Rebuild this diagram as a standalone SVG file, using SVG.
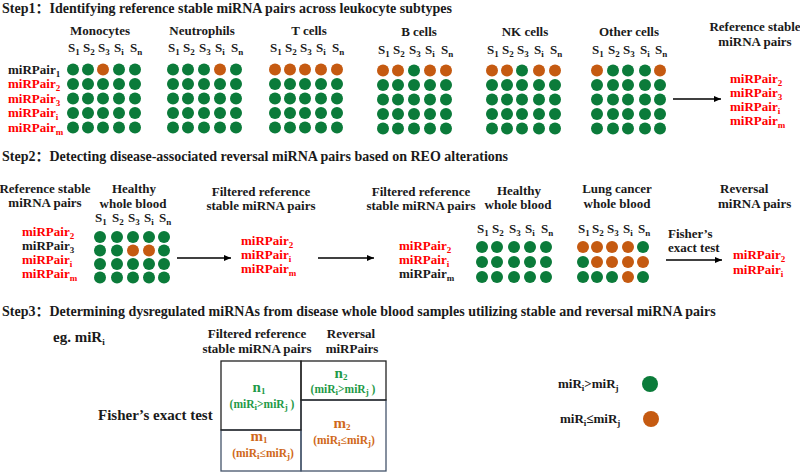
<svg xmlns="http://www.w3.org/2000/svg" width="800" height="473" viewBox="0 0 800 473">
<defs>
<style>
text{font-family:"Liberation Serif","Times New Roman","Noto Sans CJK SC",serif;font-weight:bold;font-size:13px;fill:#1a1a1a}
.ttl{font-size:14px}
.r{fill:#ff0000}
.c{text-anchor:middle}
.s{font-size:9px}
.g{fill:#0b7b3a}
.o{fill:#c55a11}
.gt{fill:#1f9a48}
.ot{fill:#d0691a}
.big{font-size:15px}
.sm{font-size:11.5px}
.ln{stroke:#000;stroke-width:1.3;fill:none}
</style>
<marker id="ah" markerWidth="8" markerHeight="8" refX="7" refY="4" orient="auto" markerUnits="userSpaceOnUse">
<path d="M0,1 L7,4 L0,7 Z" fill="#000"/>
</marker>
</defs>
<rect width="800" height="473" fill="#fff"/>

<g id="titles">
<text class="ttl" x="2" y="13">Step1：Identifying reference stable miRNA pairs across leukocyte subtypes</text>
<text class="ttl" x="2" y="161">Step2：Detecting disease-associated reversal miRNA pairs based on REO alterations</text>
<text class="ttl" x="2" y="316">Step3：Determining dysregulated miRNAs from disease whole blood samples utilizing stable and reversal miRNA pairs</text>
</g>

<g id="connectors">
<line class="ln" x1="673" y1="99" x2="721" y2="99" marker-end="url(#ah)"/>
<line class="ln" x1="177" y1="258" x2="231" y2="258" marker-end="url(#ah)"/>
<line class="ln" x1="318" y1="258" x2="374" y2="258" marker-end="url(#ah)"/>
<line class="ln" x1="666" y1="260" x2="722" y2="260" marker-end="url(#ah)"/>
</g>

<g id="step1-labels">
<text x="8" y="73.5">miRPair<tspan class="s" dy="3">1</tspan></text>
<text class="r" x="8" y="88">miRPair<tspan class="s" dy="3">2</tspan></text>
<text class="r" x="8" y="102.5">miRPair<tspan class="s" dy="3">3</tspan></text>
<text class="r" x="8" y="117">miRPair<tspan class="s" dy="3">i</tspan></text>
<text class="r" x="8" y="131.5">miRPair<tspan class="s" dy="3">m</tspan></text>
</g>

<g id="monocytes">
<text class="c" x="100" y="35">Monocytes</text>
<text x="68" y="52">S<tspan class="s" dy="3">1</tspan></text>
<text x="83" y="52">S<tspan class="s" dy="3">2</tspan></text>
<text x="98" y="52">S<tspan class="s" dy="3">3</tspan></text>
<text x="114" y="52">S<tspan class="s" dy="3">i</tspan></text>
<text x="130" y="52">S<tspan class="s" dy="3">n</tspan></text>
<circle class="g" cx="73" cy="69.5" r="6"/><circle class="g" cx="88" cy="69.5" r="6"/><circle class="o" cx="103" cy="69.5" r="6"/><circle class="g" cx="119" cy="69.5" r="6"/><circle class="g" cx="135" cy="69.5" r="6"/>
<circle class="g" cx="73" cy="84" r="6"/><circle class="g" cx="88" cy="84" r="6"/><circle class="g" cx="103" cy="84" r="6"/><circle class="g" cx="119" cy="84" r="6"/><circle class="g" cx="135" cy="84" r="6"/>
<circle class="g" cx="73" cy="98.5" r="6"/><circle class="g" cx="88" cy="98.5" r="6"/><circle class="g" cx="103" cy="98.5" r="6"/><circle class="g" cx="119" cy="98.5" r="6"/><circle class="g" cx="135" cy="98.5" r="6"/>
<circle class="g" cx="73" cy="113" r="6"/><circle class="g" cx="88" cy="113" r="6"/><circle class="g" cx="103" cy="113" r="6"/><circle class="g" cx="119" cy="113" r="6"/><circle class="g" cx="135" cy="113" r="6"/>
<circle class="g" cx="73" cy="127.5" r="6"/><circle class="g" cx="88" cy="127.5" r="6"/><circle class="g" cx="103" cy="127.5" r="6"/><circle class="g" cx="119" cy="127.5" r="6"/><circle class="g" cx="135" cy="127.5" r="6"/>
</g>

<g id="neutrophils">
<text class="c" x="202" y="35">Neutrophils</text>
<text x="168" y="52">S<tspan class="s" dy="3">1</tspan></text>
<text x="183" y="52">S<tspan class="s" dy="3">2</tspan></text>
<text x="199" y="52">S<tspan class="s" dy="3">3</tspan></text>
<text x="215" y="52">S<tspan class="s" dy="3">i</tspan></text>
<text x="231" y="52">S<tspan class="s" dy="3">n</tspan></text>
<circle class="g" cx="173" cy="69.5" r="6"/><circle class="g" cx="188" cy="69.5" r="6"/><circle class="g" cx="204" cy="69.5" r="6"/><circle class="o" cx="220" cy="69.5" r="6"/><circle class="g" cx="236" cy="69.5" r="6"/>
<circle class="g" cx="173" cy="84" r="6"/><circle class="g" cx="188" cy="84" r="6"/><circle class="g" cx="204" cy="84" r="6"/><circle class="g" cx="220" cy="84" r="6"/><circle class="g" cx="236" cy="84" r="6"/>
<circle class="g" cx="173" cy="98.5" r="6"/><circle class="g" cx="188" cy="98.5" r="6"/><circle class="g" cx="204" cy="98.5" r="6"/><circle class="g" cx="220" cy="98.5" r="6"/><circle class="g" cx="236" cy="98.5" r="6"/>
<circle class="g" cx="173" cy="113" r="6"/><circle class="g" cx="188" cy="113" r="6"/><circle class="g" cx="204" cy="113" r="6"/><circle class="g" cx="220" cy="113" r="6"/><circle class="g" cx="236" cy="113" r="6"/>
<circle class="g" cx="173" cy="127.5" r="6"/><circle class="g" cx="188" cy="127.5" r="6"/><circle class="g" cx="204" cy="127.5" r="6"/><circle class="g" cx="220" cy="127.5" r="6"/><circle class="g" cx="236" cy="127.5" r="6"/>
</g>

<g id="tcells">
<text class="c" x="309" y="35">T cells</text>
<text x="270" y="52">S<tspan class="s" dy="3">1</tspan></text>
<text x="285" y="52">S<tspan class="s" dy="3">2</tspan></text>
<text x="300" y="52">S<tspan class="s" dy="3">3</tspan></text>
<text x="316" y="52">S<tspan class="s" dy="3">i</tspan></text>
<text x="332" y="52">S<tspan class="s" dy="3">n</tspan></text>
<circle class="o" cx="275" cy="69.5" r="6"/><circle class="o" cx="290" cy="69.5" r="6"/><circle class="o" cx="305" cy="69.5" r="6"/><circle class="o" cx="321" cy="69.5" r="6"/><circle class="o" cx="337" cy="69.5" r="6"/>
<circle class="g" cx="275" cy="84" r="6"/><circle class="g" cx="290" cy="84" r="6"/><circle class="g" cx="305" cy="84" r="6"/><circle class="g" cx="321" cy="84" r="6"/><circle class="g" cx="337" cy="84" r="6"/>
<circle class="g" cx="275" cy="98.5" r="6"/><circle class="g" cx="290" cy="98.5" r="6"/><circle class="g" cx="305" cy="98.5" r="6"/><circle class="g" cx="321" cy="98.5" r="6"/><circle class="g" cx="337" cy="98.5" r="6"/>
<circle class="g" cx="275" cy="113" r="6"/><circle class="g" cx="290" cy="113" r="6"/><circle class="g" cx="305" cy="113" r="6"/><circle class="g" cx="321" cy="113" r="6"/><circle class="g" cx="337" cy="113" r="6"/>
<circle class="g" cx="275" cy="127.5" r="6"/><circle class="g" cx="290" cy="127.5" r="6"/><circle class="g" cx="305" cy="127.5" r="6"/><circle class="g" cx="321" cy="127.5" r="6"/><circle class="g" cx="337" cy="127.5" r="6"/>
</g>

<g id="bcells">
<text class="c" x="419" y="36">B cells</text>
<text x="378" y="54">S<tspan class="s" dy="3">1</tspan></text>
<text x="393" y="54">S<tspan class="s" dy="3">2</tspan></text>
<text x="409" y="54">S<tspan class="s" dy="3">3</tspan></text>
<text x="425" y="54">S<tspan class="s" dy="3">i</tspan></text>
<text x="441" y="54">S<tspan class="s" dy="3">n</tspan></text>
<circle class="o" cx="383" cy="70.5" r="6"/><circle class="o" cx="398" cy="70.5" r="6"/><circle class="g" cx="414" cy="70.5" r="6"/><circle class="o" cx="430" cy="70.5" r="6"/><circle class="o" cx="446" cy="70.5" r="6"/>
<circle class="g" cx="383" cy="85" r="6"/><circle class="g" cx="398" cy="85" r="6"/><circle class="g" cx="414" cy="85" r="6"/><circle class="g" cx="430" cy="85" r="6"/><circle class="g" cx="446" cy="85" r="6"/>
<circle class="g" cx="383" cy="99.5" r="6"/><circle class="g" cx="398" cy="99.5" r="6"/><circle class="g" cx="414" cy="99.5" r="6"/><circle class="g" cx="430" cy="99.5" r="6"/><circle class="g" cx="446" cy="99.5" r="6"/>
<circle class="g" cx="383" cy="114" r="6"/><circle class="g" cx="398" cy="114" r="6"/><circle class="g" cx="414" cy="114" r="6"/><circle class="g" cx="430" cy="114" r="6"/><circle class="g" cx="446" cy="114" r="6"/>
<circle class="g" cx="383" cy="128.5" r="6"/><circle class="g" cx="398" cy="128.5" r="6"/><circle class="g" cx="414" cy="128.5" r="6"/><circle class="g" cx="430" cy="128.5" r="6"/><circle class="g" cx="446" cy="128.5" r="6"/>
</g>

<g id="nkcells">
<text class="c" x="525" y="36">NK cells</text>
<text x="487" y="54">S<tspan class="s" dy="3">1</tspan></text>
<text x="502" y="54">S<tspan class="s" dy="3">2</tspan></text>
<text x="517" y="54">S<tspan class="s" dy="3">3</tspan></text>
<text x="534" y="54">S<tspan class="s" dy="3">i</tspan></text>
<text x="550" y="54">S<tspan class="s" dy="3">n</tspan></text>
<circle class="o" cx="492" cy="70.5" r="6"/><circle class="o" cx="507" cy="70.5" r="6"/><circle class="g" cx="522" cy="70.5" r="6"/><circle class="o" cx="539" cy="70.5" r="6"/><circle class="o" cx="555" cy="70.5" r="6"/>
<circle class="g" cx="492" cy="85" r="6"/><circle class="g" cx="507" cy="85" r="6"/><circle class="g" cx="522" cy="85" r="6"/><circle class="g" cx="539" cy="85" r="6"/><circle class="g" cx="555" cy="85" r="6"/>
<circle class="g" cx="492" cy="99.5" r="6"/><circle class="g" cx="507" cy="99.5" r="6"/><circle class="g" cx="522" cy="99.5" r="6"/><circle class="g" cx="539" cy="99.5" r="6"/><circle class="g" cx="555" cy="99.5" r="6"/>
<circle class="g" cx="492" cy="114" r="6"/><circle class="g" cx="507" cy="114" r="6"/><circle class="g" cx="522" cy="114" r="6"/><circle class="g" cx="539" cy="114" r="6"/><circle class="g" cx="555" cy="114" r="6"/>
<circle class="g" cx="492" cy="128.5" r="6"/><circle class="g" cx="507" cy="128.5" r="6"/><circle class="g" cx="522" cy="128.5" r="6"/><circle class="g" cx="539" cy="128.5" r="6"/><circle class="g" cx="555" cy="128.5" r="6"/>
</g>

<g id="othercells">
<text class="c" x="629" y="36">Other cells</text>
<text x="592" y="54">S<tspan class="s" dy="3">1</tspan></text>
<text x="608" y="54">S<tspan class="s" dy="3">2</tspan></text>
<text x="623" y="54">S<tspan class="s" dy="3">3</tspan></text>
<text x="640" y="54">S<tspan class="s" dy="3">i</tspan></text>
<text x="655" y="54">S<tspan class="s" dy="3">n</tspan></text>
<circle class="o" cx="597" cy="70.5" r="6"/><circle class="g" cx="613" cy="70.5" r="6"/><circle class="g" cx="628" cy="70.5" r="6"/><circle class="g" cx="645" cy="70.5" r="6"/><circle class="o" cx="660" cy="70.5" r="6"/>
<circle class="g" cx="597" cy="85" r="6"/><circle class="g" cx="613" cy="85" r="6"/><circle class="g" cx="628" cy="85" r="6"/><circle class="g" cx="645" cy="85" r="6"/><circle class="g" cx="660" cy="85" r="6"/>
<circle class="g" cx="597" cy="99.5" r="6"/><circle class="g" cx="613" cy="99.5" r="6"/><circle class="g" cx="628" cy="99.5" r="6"/><circle class="g" cx="645" cy="99.5" r="6"/><circle class="g" cx="660" cy="99.5" r="6"/>
<circle class="g" cx="597" cy="114" r="6"/><circle class="g" cx="613" cy="114" r="6"/><circle class="g" cx="628" cy="114" r="6"/><circle class="g" cx="645" cy="114" r="6"/><circle class="g" cx="660" cy="114" r="6"/>
<circle class="g" cx="597" cy="128.5" r="6"/><circle class="g" cx="613" cy="128.5" r="6"/><circle class="g" cx="628" cy="128.5" r="6"/><circle class="g" cx="645" cy="128.5" r="6"/><circle class="g" cx="660" cy="128.5" r="6"/>
</g>

<g id="step1-result">
<text class="c" x="755" y="31">Reference stable</text>
<text class="c" x="755" y="46">miRNA pairs</text>
<text class="r" x="730" y="83">miRPair<tspan class="s" dy="3">2</tspan></text>
<text class="r" x="730" y="97">miRPair<tspan class="s" dy="3">3</tspan></text>
<text class="r" x="730" y="111">miRPair<tspan class="s" dy="3">i</tspan></text>
<text class="r" x="730" y="125">miRPair<tspan class="s" dy="3">m</tspan></text>
</g>

<g id="step2-reference">
<text class="c" x="45" y="193">Reference stable</text>
<text class="c" x="45" y="207">miRNA pairs</text>
<text class="r" x="22" y="236">miRPair<tspan class="s" dy="3">2</tspan></text>
<text x="22" y="250">miRPair<tspan class="s" dy="3">3</tspan></text>
<text class="r" x="22" y="264">miRPair<tspan class="s" dy="3">i</tspan></text>
<text class="r" x="22" y="278">miRPair<tspan class="s" dy="3">m</tspan></text>
</g>

<g id="step2-healthy1">
<text class="c" x="134" y="193">Healthy</text>
<text class="c" x="133" y="208">whole blood</text>
<text x="95" y="222">S<tspan class="s" dy="3">1</tspan></text>
<text x="112" y="222">S<tspan class="s" dy="3">2</tspan></text>
<text x="128" y="222">S<tspan class="s" dy="3">3</tspan></text>
<text x="144" y="222">S<tspan class="s" dy="3">i</tspan></text>
<text x="159" y="222">S<tspan class="s" dy="3">n</tspan></text>
<circle class="g" cx="100" cy="237" r="6"/><circle class="g" cx="117" cy="237" r="6"/><circle class="g" cx="133" cy="237" r="6"/><circle class="g" cx="149" cy="237" r="6"/><circle class="g" cx="164" cy="237" r="6"/>
<circle class="g" cx="100" cy="250.5" r="6"/><circle class="g" cx="117" cy="250.5" r="6"/><circle class="o" cx="133" cy="250.5" r="6"/><circle class="o" cx="149" cy="250.5" r="6"/><circle class="g" cx="164" cy="250.5" r="6"/>
<circle class="g" cx="100" cy="264" r="6"/><circle class="g" cx="117" cy="264" r="6"/><circle class="g" cx="133" cy="264" r="6"/><circle class="g" cx="149" cy="264" r="6"/><circle class="g" cx="164" cy="264" r="6"/>
<circle class="g" cx="100" cy="277.5" r="6"/><circle class="g" cx="117" cy="277.5" r="6"/><circle class="g" cx="133" cy="277.5" r="6"/><circle class="g" cx="149" cy="277.5" r="6"/><circle class="g" cx="164" cy="277.5" r="6"/>
</g>

<g id="step2-filtered1">
<text class="c" x="261" y="196">Filtered reference</text>
<text class="c" x="261" y="210">stable miRNA pairs</text>
<text class="r" x="241" y="245">miRPair<tspan class="s" dy="3">2</tspan></text>
<text class="r" x="241" y="259">miRPair<tspan class="s" dy="3">i</tspan></text>
<text class="r" x="241" y="273">miRPair<tspan class="s" dy="3">m</tspan></text>
</g>

<g id="step2-filtered2">
<text class="c" x="421" y="196">Filtered reference</text>
<text class="c" x="421" y="210">stable miRNA pairs</text>
<text class="r" x="399" y="250">miRPair<tspan class="s" dy="3">2</tspan></text>
<text class="r" x="399" y="264">miRPair<tspan class="s" dy="3">i</tspan></text>
<text x="399" y="278">miRPair<tspan class="s" dy="3">m</tspan></text>
</g>

<g id="step2-healthy2">
<text class="c" x="519" y="195">Healthy</text>
<text class="c" x="518" y="209">whole blood</text>
<text x="477" y="233">S<tspan class="s" dy="3">1</tspan></text>
<text x="492" y="233">S<tspan class="s" dy="3">2</tspan></text>
<text x="509" y="233">S<tspan class="s" dy="3">3</tspan></text>
<text x="525" y="233">S<tspan class="s" dy="3">i</tspan></text>
<text x="541" y="233">S<tspan class="s" dy="3">n</tspan></text>
<circle class="g" cx="482" cy="247" r="6"/><circle class="g" cx="497" cy="247" r="6"/><circle class="g" cx="514" cy="247" r="6"/><circle class="g" cx="530" cy="247" r="6"/><circle class="g" cx="546" cy="247" r="6"/>
<circle class="g" cx="482" cy="262" r="6"/><circle class="g" cx="497" cy="262" r="6"/><circle class="g" cx="514" cy="262" r="6"/><circle class="g" cx="530" cy="262" r="6"/><circle class="g" cx="546" cy="262" r="6"/>
<circle class="g" cx="482" cy="277" r="6"/><circle class="g" cx="497" cy="277" r="6"/><circle class="g" cx="514" cy="277" r="6"/><circle class="g" cx="530" cy="277" r="6"/><circle class="g" cx="546" cy="277" r="6"/>
</g>

<g id="step2-lungcancer">
<text class="c" x="617" y="193">Lung cancer</text>
<text class="c" x="617" y="208">whole blood</text>
<text x="578" y="233">S<tspan class="s" dy="3">1</tspan></text>
<text x="592" y="233">S<tspan class="s" dy="3">2</tspan></text>
<text x="607" y="233">S<tspan class="s" dy="3">3</tspan></text>
<text x="623" y="233">S<tspan class="s" dy="3">i</tspan></text>
<text x="638" y="233">S<tspan class="s" dy="3">n</tspan></text>
<circle class="o" cx="583" cy="247" r="6"/><circle class="o" cx="597" cy="247" r="6"/><circle class="o" cx="612" cy="247" r="6"/><circle class="o" cx="628" cy="247" r="6"/><circle class="g" cx="643" cy="247" r="6"/>
<circle class="g" cx="583" cy="262" r="6"/><circle class="o" cx="597" cy="262" r="6"/><circle class="o" cx="612" cy="262" r="6"/><circle class="o" cx="628" cy="262" r="6"/><circle class="o" cx="643" cy="262" r="6"/>
<circle class="g" cx="583" cy="277" r="6"/><circle class="g" cx="597" cy="277" r="6"/><circle class="g" cx="612" cy="277" r="6"/><circle class="o" cx="628" cy="277" r="6"/><circle class="g" cx="643" cy="277" r="6"/>
</g>

<g id="step2-fisher">
<text x="668" y="238">Fisher’s</text>
<text x="668" y="252">exact test</text>
</g>

<g id="step2-reversal">
<text x="720" y="193">Reversal</text>
<text x="718" y="208">miRNA pairs</text>
<text class="r" x="733" y="259">miRPair<tspan class="s" dy="3">2</tspan></text>
<text class="r" x="733" y="274">miRPair<tspan class="s" dy="3">i</tspan></text>
</g>

<g id="step3-eg">
<text class="big" x="53" y="342">eg. miR<tspan class="s" dy="3">i</tspan></text>
<text class="big" x="98" y="420">Fisher’s exact test</text>
</g>

<g id="step3-table">
<text class="c" x="257" y="338">Filtered reference</text>
<text class="c" x="257" y="353">stable miRNA pairs</text>
<text class="c" x="351" y="338">Reversal</text>
<text class="c" x="352" y="353">miRPairs</text>
<rect x="221" y="430" width="80" height="41" fill="none" stroke="#44546a" stroke-width="1.3"/>
<rect x="301" y="400" width="85" height="71" fill="none" stroke="#44546a" stroke-width="1.3"/>
<rect x="221" y="361" width="80" height="69" fill="none" stroke="#222" stroke-width="1.3"/>
<rect x="301" y="361" width="85" height="39" fill="none" stroke="#222" stroke-width="1.3"/>
<text class="c gt big" x="259" y="392">n<tspan class="s" dy="2">1</tspan></text>
<text class="c gt sm" x="262" y="408">(miR<tspan class="s" dy="2">i</tspan><tspan dy="-2">&gt;miR</tspan><tspan class="s" dy="2">j</tspan><tspan dy="-2"> )</tspan></text>
<text class="c gt big" x="341" y="378">n<tspan class="s" dy="2">2</tspan></text>
<text class="c gt sm" x="343" y="393">(miR<tspan class="s" dy="2">i</tspan><tspan dy="-2">&gt;miR</tspan><tspan class="s" dy="2">j</tspan><tspan dy="-2"> )</tspan></text>
<text class="c ot big" x="259" y="441">m<tspan class="s" dy="2">1</tspan></text>
<text class="c ot sm" x="263" y="457">(miR<tspan class="s" dy="2">i</tspan><tspan dy="-2">≤miR</tspan><tspan class="s" dy="2">j</tspan><tspan dy="-2">)</tspan></text>
<text class="c ot big" x="342" y="428">m<tspan class="s" dy="2">2</tspan></text>
<text class="c ot sm" x="344" y="444">(miR<tspan class="s" dy="2">i</tspan><tspan dy="-2">≤miR</tspan><tspan class="s" dy="2">j</tspan><tspan dy="-2">)</tspan></text>
</g>

<g id="legend">
<text x="558" y="388">miR<tspan class="s" dy="3">i</tspan><tspan dy="-3">&gt;miR</tspan><tspan class="s" dy="3">j</tspan></text>
<circle class="g" cx="650" cy="384" r="8"/>
<text x="560" y="423">miR<tspan class="s" dy="3">i</tspan><tspan dy="-3">≤miR</tspan><tspan class="s" dy="3">j</tspan></text>
<circle class="o" cx="651" cy="419" r="8"/>
</g>
</svg>
